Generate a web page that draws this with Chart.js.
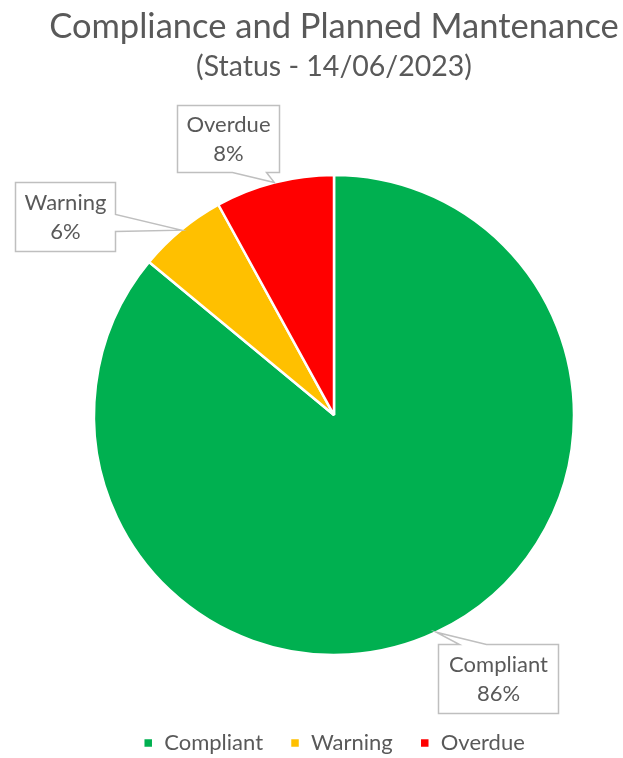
<!DOCTYPE html>
<html>
<head>
<meta charset="utf-8">
<script src="https://cdn.jsdelivr.net/npm/chart.js@4.4.0/dist/chart.umd.min.js"></script>
<style>
  html, body { margin: 0; padding: 0; background: #fff; }
  #wrap { width: 623px; height: 758px; position: relative; }
</style>
</head>
<body>
<div id="wrap"><canvas id="statusChart"></canvas></div>
<script>
// chart data
const categories = ['Compliant', 'Warning', 'Overdue'];
const shares = [86, 6, 8];
const sliceColors = ['#00B050', '#FFC000', '#FF0000'];

const FONT = 'Lato, "Open Sans", sans-serif';
const TEXT_GREY = '#595959';

// callout boxes: offset of the box centre from the slice tip, box size, pointer edge
const calloutLayout = [
    { dx: 62, dy: 46, w: 120, h: 69, side: 'top', p1: 21, p2: 48 },
    { dx: -116, dy: -14, w: 100, h: 69, side: 'right', p1: 32, p2: 49 },
    { dx: -46, dy: -44, w: 102, h: 67, side: 'bottom', p1: 55, p2: 89 }
];

// draws the Excel-like callout labels with a pointer to each slice
const calloutPlugin = {
    id: 'callouts',
    afterDatasetsDraw(chart) {
        const ctx = chart.ctx;
        const meta = chart.getDatasetMeta(0);
        const values = chart.data.datasets[0].data;
        const total = values.reduce((a, b) => a + b, 0);
        meta.data.forEach((arc, i) => {
            const p = arc.getProps(['x', 'y', 'startAngle', 'endAngle', 'outerRadius'], true);
            const mid = (p.startAngle + p.endAngle) / 2;
            const tx = p.x + Math.cos(mid) * p.outerRadius;
            const ty = p.y + Math.sin(mid) * p.outerRadius;
            const c = calloutLayout[i];
            const L = Math.round(tx + c.dx - c.w / 2) + 0.5;
            const T = Math.round(ty + c.dy - c.h / 2) + 0.5;
            const R = L + c.w;
            const B = T + c.h;

            ctx.save();
            ctx.beginPath();
            ctx.moveTo(L, T);
            if (c.side === 'top') {
                ctx.lineTo(L + c.p1, T);
                ctx.lineTo(tx, ty);
                ctx.lineTo(L + c.p2, T);
            }
            ctx.lineTo(R, T);
            if (c.side === 'right') {
                ctx.lineTo(R, T + c.p1);
                ctx.lineTo(tx, ty);
                ctx.lineTo(R, T + c.p2);
            }
            ctx.lineTo(R, B);
            if (c.side === 'bottom') {
                ctx.lineTo(L + c.p2, B);
                ctx.lineTo(tx, ty);
                ctx.lineTo(L + c.p1, B);
            }
            ctx.lineTo(L, B);
            ctx.closePath();
            ctx.fillStyle = '#ffffff';
            ctx.fill();
            ctx.strokeStyle = '#BFBFBF';
            ctx.lineWidth = 1.5;
            ctx.stroke();

            ctx.fillStyle = TEXT_GREY;
            ctx.font = '22px ' + FONT;
            ctx.textAlign = 'center';
            ctx.textBaseline = 'middle';
            const cx = (L + R) / 2;
            const cy = (T + B) / 2;
            ctx.fillText(chart.data.labels[i], cx, cy - 14);
            ctx.fillText(Math.round(values[i] / total * 100) + '%', cx, cy + 15);
            ctx.restore();
        });
    }
};

new Chart(document.getElementById('statusChart').getContext('2d'), {
    type: 'pie',
    data: {
        labels: categories,
        datasets: [{
            data: shares,
            backgroundColor: sliceColors,
            borderColor: '#ffffff',
            borderWidth: 2.5,
            radius: 240,
            hoverOffset: 0,
            offset: 0
        }]
    },
    options: {
        responsive: true,
        maintainAspectRatio: false,
        animation: false,
        events: [],
        layout: {
            padding: { left: 45, right: 0, top: 0, bottom: -6 }
        },
        plugins: {
            title: {
                display: true,
                text: 'Compliance and Planned Mantenance',
                color: TEXT_GREY,
                font: { family: FONT, size: 34.5, weight: 'normal' },
                padding: { top: 6, bottom: 0 }
            },
            subtitle: {
                display: true,
                text: '(Status - 14/06/2023)',
                color: TEXT_GREY,
                font: { family: FONT, size: 28.5, weight: 'normal' },
                padding: { top: 2.5, bottom: 41 }
            },
            legend: {
                position: 'bottom',
                labels: {
                    color: TEXT_GREY,
                    font: { family: FONT, size: 22 },
                    boxWidth: 10,
                    boxHeight: 10,
                    padding: 27
                }
            },
            tooltip: { enabled: false }
        }
    },
    plugins: [calloutPlugin]
});
</script>
</body>
</html>
